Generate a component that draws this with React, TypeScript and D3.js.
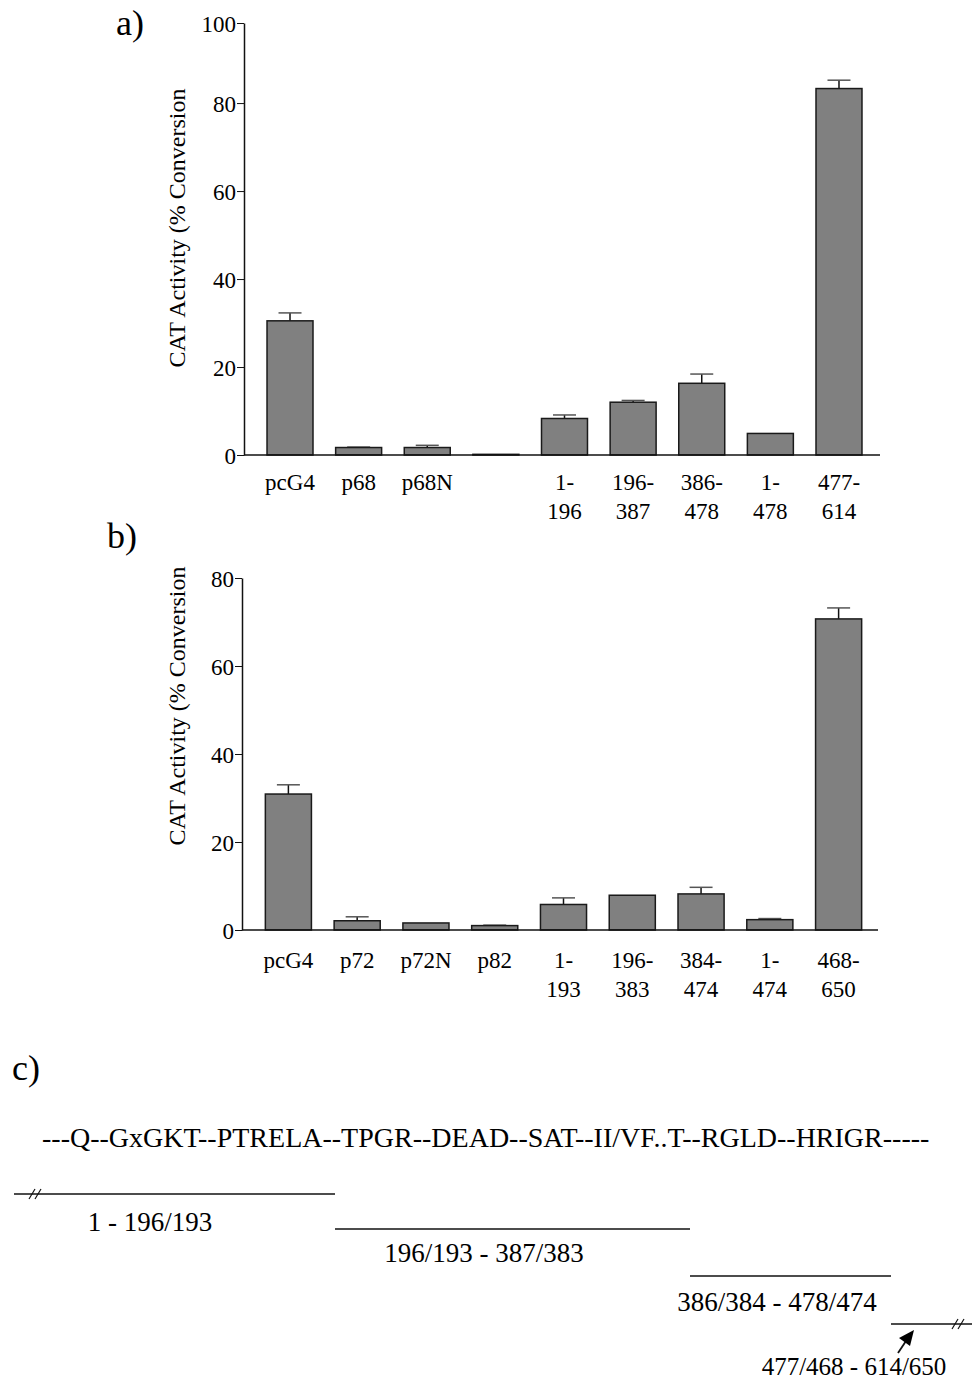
import React, { useEffect, useRef } from "react";
import * as d3 from "d3";

// panel a
const labelsA = ["pcG4", "p68", "p68N", "", "1-\n196", "196-\n387", "386-\n478", "1-\n478", "477-\n614"];
const valuesA = [30.5, 1.7, 1.7, 0.15, 8.3, 12.0, 16.3, 4.9, 83.3];
const errorsA = [1.8, 0.1, 0.5, 0, 0.8, 0.4, 2.1, 0, 1.9];
const tickValuesA = [0, 20, 40, 60, 80, 98.2];
const tickLabelsA = ["0", "20", "40", "60", "80", "100"];

// panel b
const labelsB = ["pcG4", "p72", "p72N", "p82", "1-\n193", "196-\n383", "384-\n474", "1-\n474", "468-\n650"];
const valuesB = [30.9, 2.1, 1.6, 1.0, 5.8, 7.9, 8.2, 2.35, 70.7];
const errorsB = [2.1, 0.9, 0, 0.1, 1.5, 0, 1.5, 0.25, 2.5];
const tickValuesB = [0, 20, 40, 60, 80];
const tickLabelsB = ["0", "20", "40", "60", "80"];

const yTitle = "CAT Activity (% Conversion";

// panel c
const motifs = "---Q--GxGKT--PTRELA--TPGR--DEAD--SAT--II/VF..T--RGLD--HRIGR-----";
const fragments = ["1 - 196/193", "196/193 - 387/383", "386/384 - 478/474", "477/468 - 614/650"];

const FONT = "'Liberation Serif', 'Times New Roman', serif";

function drawPanel(svg, cfg) {
  const g = svg.append("g");
  const x = d3.scaleBand()
    .domain(d3.range(cfg.labels.length))
    .range([cfg.x0, cfg.x1])
    .paddingInner(0.33)
    .paddingOuter(0.165);
  const y = d3.scaleLinear()
    .domain([0, cfg.yMax])
    .range([cfg.base, cfg.top]);

  // error bars (upward only)
  cfg.values.forEach((v, i) => {
    const e = cfg.errors[i];
    if (!e) return;
    const cx = x(i) + x.bandwidth() / 2;
    g.append("line")
      .attr("x1", cx).attr("x2", cx)
      .attr("y1", y(v)).attr("y2", y(v + e))
      .attr("stroke", "#111").attr("stroke-width", 1.5);
    g.append("line")
      .attr("x1", cx - 11.5).attr("x2", cx + 11.5)
      .attr("y1", y(v + e)).attr("y2", y(v + e))
      .attr("stroke", "#555").attr("stroke-width", 1.5);
  });

  g.selectAll("rect.bar")
    .data(cfg.values)
    .enter().append("rect")
    .attr("class", "bar")
    .attr("x", (d, i) => x(i))
    .attr("y", d => y(d))
    .attr("width", x.bandwidth())
    .attr("height", d => cfg.base - y(d))
    .attr("fill", "#808080")
    .attr("stroke", "#1a1a1a")
    .attr("stroke-width", 1.5);

  // y axis
  const yAxis = g.append("g")
    .attr("transform", `translate(${cfg.axisX},0)`)
    .call(d3.axisLeft(y)
      .tickValues(cfg.tickValues)
      .tickFormat((d, i) => cfg.tickLabels[i])
      .tickSize(7)
      .tickSizeOuter(0)
      .tickPadding(1));
  yAxis.attr("font-family", FONT).attr("font-size", 23);
  yAxis.select(".domain").attr("stroke", "#111").attr("stroke-width", 1.5);
  yAxis.selectAll(".tick line").attr("stroke", "#111").attr("stroke-width", 1);
  yAxis.selectAll(".tick text").attr("fill", "#000").attr("dy", "0.35em");

  // x axis baseline
  g.append("line")
    .attr("x1", cfg.axisX).attr("x2", cfg.axisEnd)
    .attr("y1", cfg.base).attr("y2", cfg.base)
    .attr("stroke", "#111").attr("stroke-width", 1.5);

  // category labels
  cfg.labels.forEach((lab, i) => {
    const t = g.append("text")
      .attr("font-family", FONT)
      .attr("font-size", 23)
      .attr("text-anchor", "middle")
      .attr("y", cfg.base + cfg.labelGap);
    lab.split("\n").forEach((line, k) => {
      t.append("tspan")
        .attr("x", x(i) + x.bandwidth() / 2)
        .attr("dy", k === 0 ? 0 : 29)
        .text(line);
    });
  });

  // y title
  g.append("text")
    .attr("transform", `translate(185,${cfg.titleY}) rotate(-90)`)
    .attr("font-family", FONT)
    .attr("font-size", 24)
    .attr("text-anchor", "middle")
    .text(yTitle);

  // panel letter
  g.append("text")
    .attr("x", cfg.letterX).attr("y", cfg.letterY)
    .attr("font-family", FONT)
    .attr("font-size", 36)
    .text(cfg.letter);
}

export default function App() {
  const ref = useRef(null);

  useEffect(() => {
    const svg = d3.select(ref.current);
    svg.selectAll("*").remove();

    drawPanel(svg, {
      labels: labelsA, values: valuesA, errors: errorsA,
      tickValues: tickValuesA, tickLabels: tickLabelsA, yMax: 98.2,
      x0: 255.7, x1: 873.3, axisX: 244, axisEnd: 880,
      base: 455, top: 23, labelGap: 35, titleY: 228,
      letter: "a)", letterX: 116, letterY: 35,
    });

    drawPanel(svg, {
      labels: labelsB, values: valuesB, errors: errorsB,
      tickValues: tickValuesB, tickLabels: tickLabelsB, yMax: 80,
      x0: 254, x1: 873, axisX: 242, axisEnd: 878,
      base: 930, top: 578, labelGap: 38, titleY: 706,
      letter: "b)", letterX: 107, letterY: 548,
    });

    // panel c
    const c = svg.append("g").attr("font-family", FONT);
    c.append("text").attr("x", 12).attr("y", 1080).attr("font-size", 36).text("c)");
    c.append("text").attr("x", 42).attr("y", 1147).attr("font-size", 28).text(motifs);

    const segs = [
      { x1: 14, x2: 335, y: 1194, lx: 150, ly: 1231, brk: 35, fs: 27 },
      { x1: 335, x2: 690, y: 1229, lx: 484, ly: 1262, brk: null, fs: 27 },
      { x1: 690, x2: 891, y: 1276, lx: 777, ly: 1311, brk: null, fs: 27 },
      { x1: 891, x2: 972, y: 1324, lx: 854, ly: 1375, brk: 958, fs: 25 },
    ];
    segs.forEach((s, i) => {
      c.append("line")
        .attr("x1", s.x1).attr("x2", s.x2).attr("y1", s.y).attr("y2", s.y)
        .attr("stroke", "#111").attr("stroke-width", 1.5);
      if (s.brk !== null) {
        [-3, 3].forEach(off => {
          c.append("line")
            .attr("x1", s.brk + off - 3).attr("y1", s.y + 5)
            .attr("x2", s.brk + off + 3).attr("y2", s.y - 5)
            .attr("stroke", "#111").attr("stroke-width", 1.2);
        });
      }
      c.append("text")
        .attr("x", s.lx).attr("y", s.ly)
        .attr("font-size", s.fs)
        .attr("text-anchor", "middle")
        .text(fragments[i]);
    });

    // arrow
    c.append("line")
      .attr("x1", 898).attr("y1", 1353).attr("x2", 906).attr("y2", 1341)
      .attr("stroke", "#111").attr("stroke-width", 1.8);
    c.append("path")
      .attr("d", "M914,1330 L899,1338 L910,1346 Z")
      .attr("fill", "#000");
  }, []);

  return (
    <div style={{ position: "absolute", left: 0, top: 0 }}>
      <svg ref={ref} width={972} height={1387} style={{ display: "block", background: "#fff" }}></svg>
    </div>
  );
}
